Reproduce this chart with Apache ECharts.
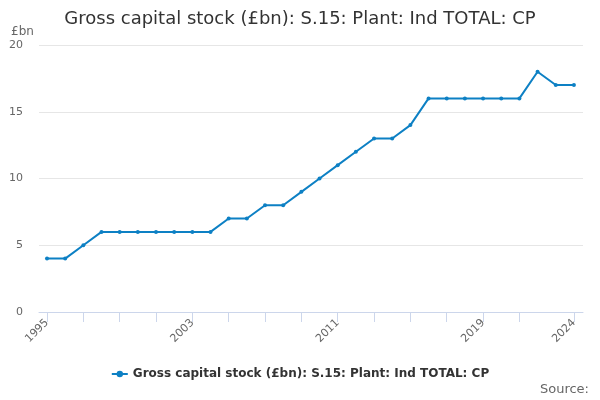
<!DOCTYPE html>
<html>
<head>
<meta charset="utf-8">
<script src="https://cdn.jsdelivr.net/npm/echarts@6/dist/echarts.min.js"></script>
<style>html,body{margin:0;padding:0;background:#fff}#c{width:600px;height:400px}</style>
</head>
<body>
<div id="c"></div>
<script>
const years = [1995,1996,1997,1998,1999,2000,2001,2002,2003,2004,2005,2006,2007,2008,2009,2010,2011,2012,2013,2014,2015,2016,2017,2018,2019,2020,2021,2022,2023,2024];
const values = [4,4,5,6,6,6,6,6,6,6,7,7,8,8,9,10,11,12,13,13,14,16,16,16,16,16,16,18,17,17];
const tickYears = [1995,1997,1999,2001,2003,2005,2007,2009,2011,2013,2015,2017,2019,2021,2024];
const labelYears = [1995,2003,2011,2019,2024];
const seriesName = 'Gross capital stock (£bn): S.15: Plant: Ind TOTAL: CP';
const titleText = 'Gross capital stock (£bn): S.15: Plant: Ind TOTAL: CP';

const font = 'DejaVu Sans, sans-serif';
const chart = echarts.init(document.getElementById('c'), null, {renderer:'canvas'});
chart.setOption({
  animation:false,
  textStyle:{fontFamily:font},
  title:{text:titleText,left:'center',top:5,textStyle:{fontFamily:font,fontSize:18,fontWeight:'normal',color:'#333'}},
  grid:{left:39,right:17,top:45,bottom:88,containLabel:false},
  xAxis:{
    type:'value',min:1994.56,max:2024.5,
    axisLine:{show:true,lineStyle:{color:'#ccd6eb',width:1}},
    axisTick:{show:true,length:10,lineStyle:{color:'#ccd6eb'},customValues:tickYears},
    axisLabel:{rotate:45,color:'#666',fontSize:11,fontFamily:font,customValues:labelYears,formatter:v=>String(v),margin:9},
    splitLine:{show:false}
  },
  yAxis:{
    type:'value',min:0,max:20,interval:5,
    axisLine:{show:false},axisTick:{show:false},
    axisLabel:{color:'#666',fontSize:11,fontFamily:font,margin:16},
    splitLine:{lineStyle:{color:'#e6e6e6',width:1}}
  },
  legend:{
    bottom:15,left:'center',itemWidth:16,itemHeight:8,itemGap:5,
    textStyle:{fontFamily:font,fontSize:12,fontWeight:'bold',color:'#333'},
    data:[seriesName]
  },
  graphic:[
    {type:'text',left:11,top:26,style:{text:'£bn',fill:'#666',font:'12px DejaVu Sans'}},
    {type:'text',right:11,top:383,style:{text:'Source:',fill:'#666',font:'13px DejaVu Sans'}}
  ],
  series:[{
    name:seriesName,type:'line',
    data:years.map((y,i)=>[y,values[i]]),
    symbol:'circle',symbolSize:4,showSymbol:true,
    itemStyle:{color:'#0d80c4'},
    lineStyle:{color:'#0d80c4',width:2}
  }]
});
</script>
</body>
</html>
